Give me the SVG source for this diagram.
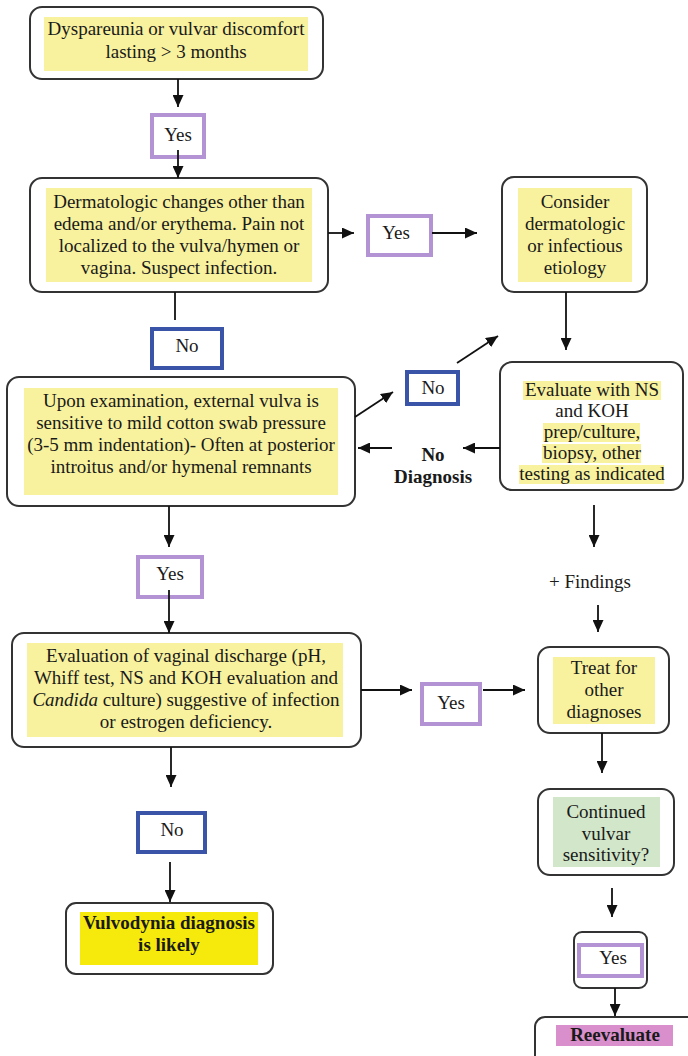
<svg xmlns="http://www.w3.org/2000/svg" width="688" height="1056" viewBox="0 0 688 1056" font-family="'Liberation Serif', 'Times New Roman', Tinos, 'Nimbus Roman', 'DejaVu Serif', serif">
<defs>
<marker id="ah" markerUnits="userSpaceOnUse" markerWidth="12" markerHeight="11" refX="12" refY="5.5" orient="auto">
<path d="M0,0 L12,5.5 L0,11 z" fill="#111"/>
</marker>
</defs>
<style>
text{font-family:'Liberation Serif','Times New Roman',Tinos,'Nimbus Roman','DejaVu Serif',serif;font-size:19px;fill:#1a1a1a;text-anchor:middle}
.b{font-weight:bold}
.box{fill:#fff;stroke:#333;stroke-width:2}
.hl{fill:#f8f29e}
.yes{fill:#fff;stroke:#b393d4;stroke-width:4}
.no{fill:#fff;stroke:#3a55a8;stroke-width:4}
.c line{stroke:#111;stroke-width:1.8}
</style>
<rect width="688" height="1056" fill="#fff"/>

<g id="n1">
<rect class="box" x="30" y="7" width="293" height="72" rx="12"/>
<rect class="hl" x="44" y="17" width="264" height="54"/>
<text x="176" y="35">Dyspareunia or vulvar discomfort</text>
<text x="176" y="58">lasting &gt; 3 months</text>
</g>
<g id="yes1">
<rect class="yes" x="152" y="115" width="52" height="42"/>
<text x="178" y="141">Yes</text>
</g>
<g id="n2">
<rect class="box" x="30" y="178" width="298" height="114" rx="12"/>
<rect class="hl" x="46" y="188" width="266" height="94"/>
<text x="179" y="208">Dermatologic changes other than</text>
<text x="179" y="230">edema and/or erythema. Pain not</text>
<text x="179" y="252">localized to the vulva/hymen or</text>
<text x="179" y="274">vagina. Suspect infection.</text>
</g>
<g id="yes2">
<rect class="yes" x="368" y="216" width="63" height="39"/>
<text x="396" y="239">Yes</text>
</g>
<g id="n3">
<rect class="box" x="502" y="177" width="145" height="115" rx="12"/>
<rect class="hl" x="518" y="188" width="114" height="94"/>
<text x="575" y="208">Consider</text>
<text x="575" y="230">dermatologic</text>
<text x="575" y="252">or infectious</text>
<text x="575" y="274">etiology</text>
</g>
<g id="no1">
<rect class="no" x="152" y="329" width="70" height="39"/>
<text x="187" y="352">No</text>
</g>
<g id="n5">
<rect class="box" x="7" y="377" width="348" height="129" rx="12"/>
<rect class="hl" x="24" y="388" width="314" height="107"/>
<text x="181" y="407">Upon examination, external vulva is</text>
<text x="181" y="429">sensitive to mild cotton swab pressure</text>
<text x="181" y="451">(3-5 mm indentation)- Often at posterior</text>
<text x="181" y="473">introitus and/or hymenal remnants</text>
</g>
<g id="no2">
<rect class="no" x="407" y="372" width="51" height="32"/>
<text x="433" y="394">No</text>
</g>
<g id="nodiag">
<text class="b" x="433" y="461">No</text>
<text class="b" x="433" y="483">Diagnosis</text>
</g>
<g id="n4">
<rect class="box" x="500" y="362" width="183" height="128" rx="12"/>
<rect class="hl" x="523" y="381" width="138" height="19"/>
<rect class="hl" x="543" y="423" width="97" height="19"/>
<rect class="hl" x="542" y="444" width="99" height="19"/>
<rect class="hl" x="519" y="465" width="145" height="19"/>
<text x="592" y="396">Evaluate with NS</text>
<text x="592" y="417">and KOH</text>
<text x="592" y="438">prep/culture,</text>
<text x="592" y="459">biopsy, other</text>
<text x="592" y="480">testing as indicated</text>
</g>
<g id="findings">
<text x="590" y="588">+ Findings</text>
</g>
<g id="yes3">
<rect class="yes" x="138" y="557" width="64" height="40"/>
<text x="170" y="580">Yes</text>
</g>
<g id="n6">
<rect class="box" x="12" y="633" width="349" height="114" rx="12"/>
<rect class="hl" x="27" y="643" width="316" height="94"/>
<text x="186" y="662">Evaluation of vaginal discharge (pH,</text>
<text x="186" y="684">Whiff test, NS and KOH evaluation and</text>
<text x="186" y="706"><tspan font-style="italic">Candida</tspan> culture) suggestive of infection</text>
<text x="186" y="728">or estrogen deficiency.</text>
</g>
<g id="yes4">
<rect class="yes" x="422" y="684" width="58" height="40"/>
<text x="451" y="709">Yes</text>
</g>
<g id="n7">
<rect class="box" x="538" y="647" width="131" height="86" rx="12"/>
<rect class="hl" x="553" y="657" width="102" height="67"/>
<text x="604" y="674">Treat for</text>
<text x="604" y="696">other</text>
<text x="604" y="718">diagnoses</text>
</g>
<g id="no3">
<rect class="no" x="138" y="813" width="67" height="39"/>
<text x="172" y="836">No</text>
</g>
<g id="n9">
<rect class="box" x="66" y="903" width="207" height="71" rx="10"/>
<rect fill="#f6ea0c" x="80" y="912" width="178" height="53"/>
<text class="b" x="169" y="929">Vulvodynia diagnosis</text>
<text class="b" x="169" y="951">is likely</text>
</g>
<g id="n8">
<rect class="box" x="538" y="789" width="136" height="86" rx="12"/>
<rect fill="#d2e7c9" x="553" y="797" width="107" height="70"/>
<text x="606" y="818">Continued</text>
<text x="606" y="840">vulvar</text>
<text x="606" y="861">sensitivity?</text>
</g>
<g id="yes5">
<rect class="box" x="574" y="932" width="73" height="56" rx="8"/>
<rect class="yes" x="579" y="945" width="63" height="31"/>
<text x="613" y="964">Yes</text>
</g>
<g id="n10">
<rect class="box" x="535" y="1017" width="170" height="60" rx="10"/>
<rect fill="#d98fcb" x="556" y="1025" width="117" height="21"/>
<text class="b" x="615" y="1041">Reevaluate</text>
</g>

<g id="connectors" class="c">
<line x1="178" y1="79" x2="178" y2="107" marker-end="url(#ah)"/>
<line x1="178" y1="150" x2="178" y2="178" marker-end="url(#ah)"/>
<line x1="328" y1="233" x2="354" y2="233" marker-end="url(#ah)"/>
<line x1="432" y1="233" x2="477" y2="233" marker-end="url(#ah)"/>
<line x1="175" y1="292" x2="175" y2="320"/>
<line x1="566" y1="292" x2="566" y2="350" marker-end="url(#ah)"/>
<line x1="500" y1="448" x2="463" y2="448" marker-end="url(#ah)"/>
<line x1="392" y1="448" x2="358" y2="448" marker-end="url(#ah)"/>
<line x1="355" y1="417" x2="393" y2="392" marker-end="url(#ah)"/>
<line x1="457" y1="363" x2="498" y2="336" marker-end="url(#ah)"/>
<line x1="169" y1="506" x2="169" y2="547" marker-end="url(#ah)"/>
<line x1="169" y1="590" x2="169" y2="633" marker-end="url(#ah)"/>
<line x1="594" y1="505" x2="594" y2="547" marker-end="url(#ah)"/>
<line x1="598" y1="605" x2="598" y2="632" marker-end="url(#ah)"/>
<line x1="361" y1="690" x2="412" y2="690" marker-end="url(#ah)"/>
<line x1="483" y1="690" x2="525" y2="690" marker-end="url(#ah)"/>
<line x1="171" y1="747" x2="171" y2="787" marker-end="url(#ah)"/>
<line x1="170" y1="862" x2="170" y2="902" marker-end="url(#ah)"/>
<line x1="602" y1="733" x2="602" y2="773" marker-end="url(#ah)"/>
<line x1="612" y1="888" x2="612" y2="917" marker-end="url(#ah)"/>
<line x1="615" y1="988" x2="615" y2="1016" marker-end="url(#ah)"/>
</g>
</svg>
